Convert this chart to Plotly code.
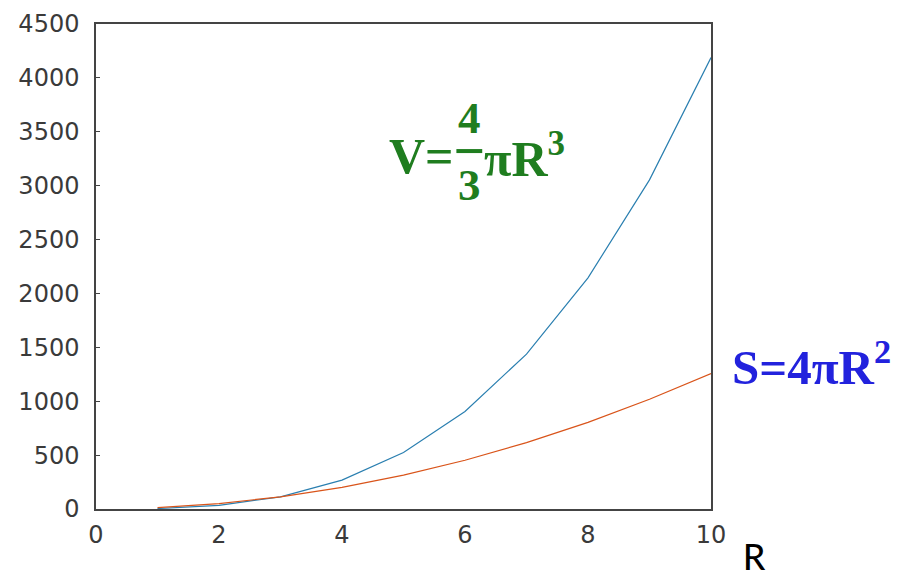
import plotly.graph_objects as go

# Radius values and the corresponding sphere volume and surface area
radius = [1, 2, 3, 4, 5, 6, 7, 8, 9, 10]
volume = [4.19, 33.5, 113.1, 268.1, 523.6, 904.8, 1436.8, 2144.7, 3053.6, 4188.8]
surface = [12.6, 50.3, 113.1, 201.1, 314.2, 452.4, 615.8, 804.2, 1017.9, 1256.6]

x_ticks = [0, 2, 4, 6, 8, 10]
y_ticks = [0, 500, 1000, 1500, 2000, 2500, 3000, 3500, 4000, 4500]

fig = go.Figure()
fig.add_trace(go.Scatter(x=radius, y=volume, mode="lines",
                         line=dict(color="#2a7fb0", width=1.2), showlegend=False))
fig.add_trace(go.Scatter(x=radius, y=surface, mode="lines",
                         line=dict(color="#d9541a", width=1.2), showlegend=False))

axis_common = dict(showgrid=False, zeroline=False, showline=True, mirror=True,
                   linecolor="#444", linewidth=1.5, automargin=False,
                   tickfont=dict(family="DejaVu Sans, Liberation Sans", size=24, color="#3a3a3a"))

fig.update_xaxes(range=[0, 10], tickvals=x_ticks, ticks="", ticklen=0,
                 ticklabelstandoff=3, **axis_common)
fig.update_yaxes(range=[0, 4500], tickvals=y_ticks, ticks="inside", ticklen=4,
                 tickcolor="#444", ticklabelstandoff=10, **axis_common)

green = "#1f7d1f"
serif = "Liberation Serif, Times New Roman, serif"
gfont = dict(family=serif, size=50, color=green)
dfont = dict(family=serif, size=45, color=green)
ann = [
    dict(x=0.584, y=0.728, text="<b>V=</b>", font=gfont, xanchor="right", yanchor="middle"),
    dict(x=0.607, y=0.806, text="<b>4</b>", font=dfont, xanchor="center", yanchor="middle"),
    dict(x=0.607, y=0.668, text="<b>3</b>", font=dfont, xanchor="center", yanchor="middle"),
    dict(x=0.629, y=0.728, text="<b>πR<sup>3</sup></b>", font=gfont, xanchor="left", yanchor="middle"),
    dict(x=1.033, y=0.299, text="<b>S=4πR<sup>2</sup></b>",
         font=dict(family=serif, size=49, color="#2222dd"), xanchor="left", yanchor="middle"),
    dict(x=1.07, y=-0.095, text="R", font=dict(family="Carlito, Calibri, Liberation Sans", size=42, color="#000"),
         xanchor="center", yanchor="middle"),
]
for a in ann:
    fig.add_annotation(xref="paper", yref="paper", showarrow=False, borderpad=0, **a)

# fraction bar
fig.add_shape(type="line", xref="paper", yref="paper", x0=0.586, x1=0.628, y0=0.738, y1=0.738,
              line=dict(color=green, width=4), layer="above")

fig.update_layout(width=897, height=576, margin=dict(l=96, r=186, t=24, b=67),
                  paper_bgcolor="white", plot_bgcolor="white")

fig.write_html("out.html")
